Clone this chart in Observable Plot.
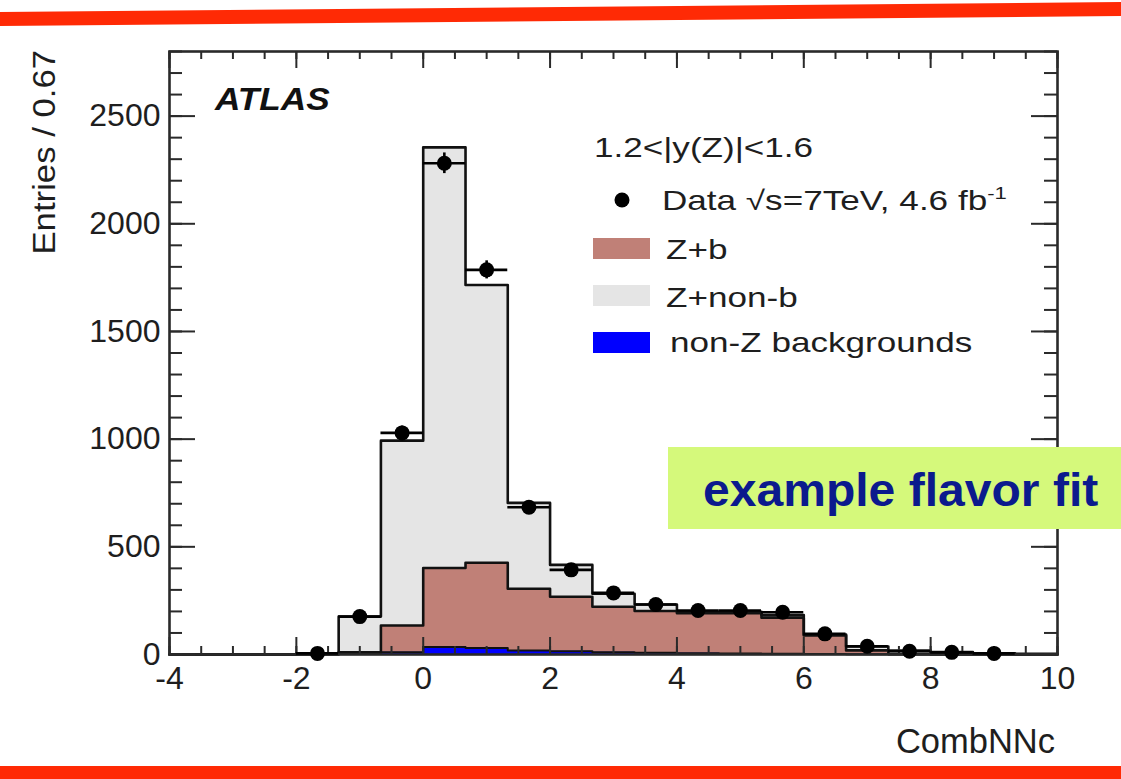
<!DOCTYPE html>
<html><head><meta charset="utf-8">
<script src="https://cdn.jsdelivr.net/npm/d3@7"></script>
<script src="https://cdn.jsdelivr.net/npm/@observablehq/plot@0.6"></script>
<style>
body{margin:0;background:#fff;font-family:"Liberation Sans",Arial,Helvetica,sans-serif;}
#wrap{position:relative;width:1121px;height:779px;overflow:hidden;background:#fff;}
.red{position:absolute;left:-20px;width:1161px;background:#ff2a05;}
</style></head><body><div id="wrap"></div>
<script>
// ---- data ----
const binEdges = [-4, -3.333, -2.667, -2, -1.333, -0.667, 0, 0.667, 1.333, 2, 2.667, 3.333, 4, 4.667, 5.333, 6, 6.667, 7.333, 8, 8.667, 9.333, 10];
const nonZ  = [0, 0, 0, 0, 2, 10, 35, 30, 18, 15, 10, 8, 6, 5, 4, 2, 1, 0, 0, 0, 0];
const zb    = [0, 0, 0, 0, 8, 125, 367, 396, 287, 253, 212, 194, 186, 187, 167, 86, 18, 2, 0, 0, 0];
const zNonB = [0, 0, 0, 5, 166, 858, 1953, 1290, 399, 148, 60, 30, 6, 6, 12, 5, 18, 16, 11, 6, 3];

const dataCenters = [-1.667, -1, -0.333, 0.333, 1, 1.667, 2.333, 3, 3.667, 4.333, 5, 5.667, 6.333, 7, 7.667, 8.333, 9];
const dataValues  = [5, 176, 1029, 2281, 1786, 684, 393, 286, 232, 204, 204, 196, 96, 38, 15, 10, 5];
const dataErr     = [2, 13, 32, 48, 42, 26, 20, 17, 15, 14, 14, 14, 10, 6, 4, 3, 2];
const binHalf = 0.333;

const xTicks = [-4, -2, 0, 2, 4, 6, 8, 10];
const yTicks = [0, 500, 1000, 1500, 2000, 2500];
const xMinor = d3.range(-4, 10.001, 0.5);
const yMinor = d3.range(0, 2801, 100);

const legendTitle = "1.2<|y(Z)|<1.6";
const legendLabels = ["Z+b", "Z+non-b", "non-Z backgrounds"];
const legendColors = ["#c08077", "#e5e5e5", "#0000ff"];
const colBrown = legendColors[0], colGray = legendColors[1], colBlue = legendColors[2];

// ---- derived tables ----
const cumBrown = zb.map((v, i) => v + nonZ[i]);
const total = zNonB.map((v, i) => v + cumBrown[i]);
function stepRows(vals) {
  const r = vals.map((v, i) => ({x: binEdges[i], v}));
  r.push({x: binEdges[binEdges.length - 1], v: vals[vals.length - 1]});
  return r;
}
const rowsTotal = stepRows(total), rowsBrown = stepRows(cumBrown), rowsBlue = stepRows(nonZ);
const pts = dataCenters.map((c, i) => ({c, v: dataValues[i], e: dataErr[i], lo: c - binHalf, hi: c + binHalf}));

const W = 1121, H = 779, mL = 169, mR = 64, mT = 51, mB = 125;
const fw = W - mL - mR, fh = H - mT - mB;
const tickCol = "#2a2a2a";

const chart = Plot.plot({
  width: W, height: H,
  marginLeft: mL, marginRight: mR, marginTop: mT, marginBottom: mB,
  style: {fontFamily: "Liberation Sans, Arial, Helvetica, sans-serif", color: "#1e1e1e", background: "transparent"},
  x: {domain: [-4, 10]},
  y: {domain: [0, 2800]},
  marks: [
    Plot.areaY(rowsTotal, {x: "x", y1: 0, y2: "v", curve: "step-after", fill: colGray}),
    Plot.areaY(rowsBrown, {x: "x", y1: 0, y2: "v", curve: "step-after", fill: colBrown}),
    Plot.areaY(rowsBlue, {x: "x", y1: 0, y2: "v", curve: "step-after", fill: colBlue}),
    Plot.line(rowsTotal, {x: "x", y: "v", curve: "step-after", stroke: "#111", strokeWidth: 2.6}),
    Plot.line(rowsBrown, {x: "x", y: "v", curve: "step-after", stroke: "#111", strokeWidth: 2.6}),
    Plot.line(rowsBlue, {x: "x", y: "v", curve: "step-after", stroke: "#111", strokeWidth: 2}),
    // ticks (inward, all four sides)
    Plot.tickX(xMinor, {x: d => d, insetTop: fh - 8, stroke: tickCol, strokeWidth: 2}),
    Plot.tickX(xTicks, {x: d => d, insetTop: fh - 17, stroke: tickCol, strokeWidth: 2}),
    Plot.tickX(xMinor, {x: d => d, insetBottom: fh - 8, stroke: tickCol, strokeWidth: 2}),
    Plot.tickX(xTicks, {x: d => d, insetBottom: fh - 17, stroke: tickCol, strokeWidth: 2}),
    Plot.tickY(yMinor, {y: d => d, insetRight: fw - 13, stroke: tickCol, strokeWidth: 2}),
    Plot.tickY(yTicks, {y: d => d, insetRight: fw - 26, stroke: tickCol, strokeWidth: 2}),
    Plot.tickY(yMinor, {y: d => d, insetLeft: fw - 13, stroke: tickCol, strokeWidth: 2}),
    Plot.tickY(yTicks, {y: d => d, insetLeft: fw - 26, stroke: tickCol, strokeWidth: 2}),
    Plot.frame({stroke: tickCol, strokeWidth: 2.6}),
    // data points
    Plot.ruleY(pts, {y: "v", x1: "lo", x2: "hi", stroke: "#000", strokeWidth: 2.6}),
    Plot.ruleX(pts, {x: "c", y1: d => Math.max(0, d.v - d.e), y2: d => d.v + d.e, stroke: "#000", strokeWidth: 2.6}),
    Plot.dot(pts, {x: "c", y: "v", r: 7.5, fill: "#000", stroke: null}),
    Plot.axisX(xTicks, {tickSize: 0, tickPadding: 12, fontSize: 32, tickFormat: d => String(d), label: null}),
    Plot.axisY(yTicks, {tickSize: 0, tickPadding: 9, fontSize: 32, tickFormat: d => String(d), label: null})
  ]
});
document.getElementById("wrap").appendChild(chart);

// ---- annotations: labels, legend, note ----
const svg = d3.select(chart);
const g = svg.append("g").attr("font-family", "Liberation Sans, Arial, Helvetica, sans-serif").attr("fill", "#1e1e1e");
function txt(x, y, str, size, sx, opt = {}) {
  const t = g.append("text")
    .attr("transform", `translate(${x},${y})${opt.rot ? ` rotate(${opt.rot})` : ""} scale(${sx},1)`)
    .attr("font-size", size)
    .attr("text-anchor", opt.anchor || "start");
  if (opt.weight) t.attr("font-weight", opt.weight);
  if (opt.style) t.attr("font-style", opt.style);
  if (opt.fill) t.attr("fill", opt.fill);
  t.text(str);
  return t;
}
// axis titles
txt(55, 50, "Entries / 0.67", 31, 1.12, {rot: -90, anchor: "end"});
txt(1055, 753, "CombNNc", 34.5, 1.0, {anchor: "end"});
// ATLAS
txt(215, 110, "ATLAS", 32, 1.1, {weight: "bold", style: "italic", fill: "#111"});
// legend
txt(594, 157, legendTitle, 27, 1.3);
g.append("circle").attr("cx", 622).attr("cy", 200).attr("r", 7.5).attr("fill", "#000");
const dt = txt(662, 210, "Data √s=7TeV, 4.6 fb", 27, 1.3);
dt.append("tspan").attr("font-size", 17).attr("dy", -11).text("-1");
const swY = [238, 285, 332], txtY = [259, 307, 352], txtX = [666, 666, 670];
legendLabels.forEach((lab, i) => {
  g.append("rect").attr("x", 593).attr("y", swY[i]).attr("width", 57).attr("height", 21).attr("fill", legendColors[i]);
  txt(txtX[i], txtY[i], lab, 27, 1.3);
});
// note box
g.append("rect").attr("x", 668).attr("y", 447).attr("width", 460).attr("height", 82).attr("fill", "#d5f97b");
txt(703, 506, "example flavor fit", 46, 1.045, {weight: "bold", fill: "#0b1a8d"});

// slide decoration strips
const wrap = document.getElementById("wrap");
const top1 = document.createElement("div"); top1.className = "red";
top1.style.top = "7px"; top1.style.height = "14px"; top1.style.transform = "rotate(-0.5deg)";
wrap.appendChild(top1);
const bot1 = document.createElement("div"); bot1.className = "red";
bot1.style.top = "766px"; bot1.style.height = "16px";
wrap.appendChild(bot1);
</script></body></html>
